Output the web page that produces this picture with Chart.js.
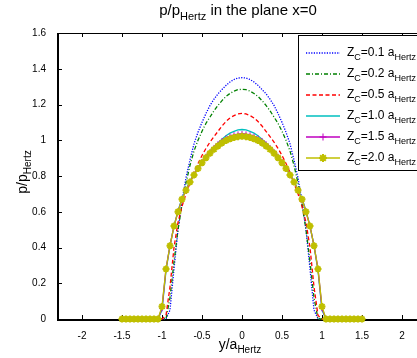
<!DOCTYPE html>
<html lang="en">
<head>
<meta charset="UTF-8">
<title>p/pHertz in the plane x=0</title>
<script src="https://cdn.jsdelivr.net/npm/chart.js"></script>
<style>
  html, body { margin: 0; padding: 0; overflow: hidden; background: #fff; }
</style>
</head>
<body>
<canvas id="chart" width="440" height="358"></canvas>
<script>
// positions along y (in units of a_Hertz)
const yPos = [-1.5, -1.45, -1.4, -1.35, -1.3, -1.25, -1.2, -1.15, -1.1, -1.05,
  -1, -0.95, -0.9, -0.85, -0.8, -0.75, -0.7, -0.65, -0.6, -0.55,
  -0.5, -0.45, -0.4, -0.35, -0.3, -0.25, -0.2, -0.15, -0.1, -0.05,
  0,
  0.05, 0.1, 0.15, 0.2, 0.25, 0.3, 0.35, 0.4, 0.45, 0.5,
  0.55, 0.6, 0.65, 0.7, 0.75, 0.8, 0.85, 0.9, 0.95, 1,
  1.05, 1.1, 1.15, 1.2, 1.25, 1.3, 1.35, 1.4, 1.45, 1.5];

const zcLabels = ['0.1', '0.2', '0.5', '1.0', '1.5', '2.0'];

// p/pHertz for each Zc
const pZc01 = [0, 0, 0, 0, 0, 0, 0, 0, 0, 0,
  0, 0, 0.05, 0.28, 0.50, 0.66, 0.79, 0.89, 0.98, 1.045,
  1.10, 1.15, 1.195, 1.23, 1.26, 1.284, 1.307, 1.326, 1.34, 1.348,
  1.35,
  1.348, 1.34, 1.326, 1.307, 1.284, 1.26, 1.23, 1.195, 1.15, 1.10,
  1.045, 0.98, 0.89, 0.79, 0.66, 0.50, 0.28, 0.05, 0, 0,
  0, 0, 0, 0, 0, 0, 0, 0, 0, 0];
const pZc02 = [0, 0, 0, 0, 0, 0, 0, 0, 0, 0,
  0, 0, 0.12, 0.32, 0.50, 0.64, 0.76, 0.86, 0.94, 1.0,
  1.05, 1.095, 1.13, 1.165, 1.195, 1.222, 1.245, 1.262, 1.275, 1.283,
  1.285,
  1.283, 1.275, 1.262, 1.245, 1.222, 1.195, 1.165, 1.13, 1.095, 1.05,
  1.0, 0.94, 0.86, 0.76, 0.64, 0.50, 0.32, 0.12, 0, 0,
  0, 0, 0, 0, 0, 0, 0, 0, 0, 0];
const pZc05 = [0, 0, 0, 0, 0, 0, 0, 0, 0, 0,
  0, 0.02, 0.18, 0.40, 0.54, 0.63, 0.70, 0.76, 0.82, 0.87,
  0.915, 0.955, 0.99, 1.02, 1.05, 1.08, 1.105, 1.125, 1.138, 1.147,
  1.15,
  1.147, 1.138, 1.125, 1.105, 1.08, 1.05, 1.02, 0.99, 0.955, 0.915,
  0.87, 0.82, 0.76, 0.70, 0.63, 0.54, 0.40, 0.18, 0.02, 0,
  0, 0, 0, 0, 0, 0, 0, 0, 0, 0];
const pZc10 = [0, 0, 0, 0, 0, 0, 0, 0, 0, 0,
  0.05, 0.27, 0.41, 0.52, 0.605, 0.675, 0.725, 0.77, 0.81, 0.845,
  0.88, 0.91, 0.937, 0.962, 0.985, 1.005, 1.025, 1.04, 1.05, 1.058,
  1.06,
  1.058, 1.05, 1.04, 1.025, 1.005, 0.985, 0.962, 0.937, 0.91, 0.88,
  0.845, 0.81, 0.77, 0.725, 0.675, 0.605, 0.52, 0.41, 0.27, 0.05,
  0, 0, 0, 0, 0, 0, 0, 0, 0, 0];
const pZc15 = [0, 0, 0, 0, 0, 0, 0, 0, 0, 0,
  0.06, 0.28, 0.41, 0.52, 0.60, 0.67, 0.72, 0.768, 0.808, 0.845,
  0.878, 0.908, 0.934, 0.957, 0.978, 0.996, 1.01, 1.02, 1.028, 1.033,
  1.035,
  1.033, 1.028, 1.02, 1.01, 0.996, 0.978, 0.957, 0.934, 0.908, 0.878,
  0.845, 0.808, 0.768, 0.72, 0.67, 0.60, 0.52, 0.41, 0.28, 0.06,
  0, 0, 0, 0, 0, 0, 0, 0, 0, 0];
const pZc20 = [0, 0, 0, 0, 0, 0, 0, 0, 0, 0,
  0.07, 0.28, 0.41, 0.52, 0.60, 0.67, 0.72, 0.766, 0.806, 0.842,
  0.874, 0.902, 0.927, 0.949, 0.968, 0.985, 0.998, 1.008, 1.015, 1.02,
  1.022,
  1.02, 1.015, 1.008, 0.998, 0.985, 0.968, 0.949, 0.927, 0.902, 0.874,
  0.842, 0.806, 0.766, 0.72, 0.67, 0.60, 0.52, 0.41, 0.28, 0.07,
  0, 0, 0, 0, 0, 0, 0, 0, 0, 0];

const xTicks = [-2, -1.5, -1, -0.5, 0, 0.5, 1, 1.5, 2];
const yTicks = [0, 0.2, 0.4, 0.6, 0.8, 1, 1.2, 1.4, 1.6];

const FONT = '"Liberation Sans", Arial, Helvetica, sans-serif';

function pts(values) {
  return yPos.map((y, i) => ({ x: y, y: values[i] }));
}

// draws text with subscript parts: [[text, isSub], ...]
function richText(ctx, parts, x, y, size, align) {
  const subSize = Math.round(size * 0.72);
  let w = 0;
  parts.forEach(([t, sub]) => {
    ctx.font = (sub ? subSize : size) + 'px ' + FONT;
    w += ctx.measureText(t).width;
  });
  let cx = align === 'center' ? x - w / 2 : x;
  ctx.textAlign = 'left';
  ctx.textBaseline = 'alphabetic';
  parts.forEach(([t, sub]) => {
    ctx.font = (sub ? subSize : size) + 'px ' + FONT;
    ctx.fillText(t, cx, sub ? y + size * 0.32 : y);
    cx += ctx.measureText(t).width;
  });
}

const frame = {
  id: 'frame',
  beforeDatasetsDraw(chart) {
    const { ctx, chartArea: a, scales: { x, y } } = chart;
    ctx.save();
    ctx.strokeStyle = '#000';
    ctx.lineWidth = 1;
    ctx.strokeRect(a.left + 0.5, a.top + 0.5, a.right - a.left, a.bottom - a.top);
    ctx.beginPath();
    xTicks.forEach(v => {
      const px = Math.round(x.getPixelForValue(v)) + 0.5;
      ctx.moveTo(px, a.bottom); ctx.lineTo(px, a.bottom - 4);
      ctx.moveTo(px, a.top); ctx.lineTo(px, a.top + 4);
    });
    yTicks.forEach(v => {
      const py = Math.round(y.getPixelForValue(v)) + 0.5;
      ctx.moveTo(a.left, py); ctx.lineTo(a.left + 4, py);
      ctx.moveTo(a.right, py); ctx.lineTo(a.right - 4, py);
    });
    ctx.stroke();
    // heavier left and bottom axis lines
    ctx.lineWidth = 2;
    ctx.beginPath();
    ctx.moveTo(a.left, a.top);
    ctx.lineTo(a.left, a.bottom + 1);
    ctx.lineTo(a.right, a.bottom + 1);
    ctx.stroke();
    ctx.restore();
  },
  afterDraw(chart) {
    const { ctx, chartArea: a } = chart;
    const mid = (a.left + a.right) / 2;
    ctx.save();
    ctx.fillStyle = '#000';
    // title
    richText(ctx, [['p/p'], ['Hertz', 1], [' in the plane x=0']], mid - 4, 15, 15, 'center');
    // x axis title
    richText(ctx, [['y/a'], ['Hertz', 1]], mid - 2, 349, 14, 'center');
    // y axis title
    ctx.save();
    ctx.translate(27, (a.top + a.bottom) / 2 - 4);
    ctx.rotate(-Math.PI / 2);
    richText(ctx, [['p/p'], ['Hertz', 1]], 0, 0, 14, 'center');
    ctx.restore();

    // legend
    const lx = 298, ly = 35, lw = 130, lh = 135;
    ctx.fillStyle = '#fff';
    ctx.fillRect(lx, ly, lw, lh);
    ctx.strokeStyle = '#000';
    ctx.lineWidth = 1;
    ctx.strokeRect(lx + 0.5, ly + 0.5, lw, lh);
    chart.data.datasets.forEach((ds, i) => {
      const cy = ly + 18 + i * 21;
      ctx.save();
      ctx.strokeStyle = ds.borderColor;
      ctx.lineWidth = ds.borderWidth;
      ctx.setLineDash(ds.borderDash || []);
      ctx.beginPath();
      ctx.moveTo(lx + 8, cy);
      ctx.lineTo(lx + 42, cy);
      ctx.stroke();
      ctx.setLineDash([]);
      if (ds.pointRadius > 0 && Chart.helpers && Chart.helpers.drawPoint) {
        ctx.fillStyle = ds.borderColor;
        ctx.lineWidth = ds.pointBorderWidth;
        Chart.helpers.drawPoint(ctx, {
          pointStyle: ds.pointStyle, radius: ds.pointRadius + 0.5,
          borderWidth: ds.pointBorderWidth, rotation: 0
        }, lx + 25, cy);
      }
      ctx.restore();
      ctx.fillStyle = '#000';
      richText(ctx, [['Z'], ['C', 1], ['=' + zcLabels[i] + ' a'], ['Hertz', 1]], lx + 49, cy + 3, 12, 'left');
    });
    ctx.restore();
  }
};

const colors = ['#0000ff', '#008000', '#ff0000', '#00bfbf', '#bf00bf', '#bfbf00'];
const dashes = [[1.2, 1.4], [4, 2, 1, 2], [4, 2.5], [], [], []];
const series = [pZc01, pZc02, pZc05, pZc10, pZc15, pZc20];
const styles = [null, null, null, null, 'cross', 'star'];

const datasets = series.map((s, i) => ({
  label: 'Zc=' + zcLabels[i] + ' aHertz',
  data: pts(s),
  borderColor: colors[i],
  backgroundColor: colors[i],
  borderWidth: 1.3,
  borderDash: dashes[i],
  pointStyle: styles[i] || 'circle',
  pointRadius: styles[i] === 'star' ? 3.5 : (styles[i] ? 3 : 0),
  pointBorderWidth: styles[i] === 'star' ? 2 : 1,
  pointBorderColor: colors[i],
  pointBackgroundColor: colors[i],
  tension: 0,
  clip: false,
  order: 5 - i
}));

Chart.defaults.font.family = FONT;
Chart.defaults.color = '#000';

new Chart(document.getElementById('chart').getContext('2d'), {
  type: 'line',
  data: { datasets },
  options: {
    responsive: false,
    animation: false,
    devicePixelRatio: 1,
    layout: { padding: { left: 0, top: 33, right: 14, bottom: 0 } },
    plugins: { legend: { display: false }, tooltip: { enabled: false }, title: { display: false } },
    scales: {
      x: {
        type: 'linear', min: -2.3, max: 2.3,
        afterBuildTicks: s => { s.ticks = xTicks.map(v => ({ value: v })); },
        afterFit: s => { s.height = 39; },
        grid: { display: false }, border: { display: false },
        ticks: { font: { size: 10 }, padding: 3, maxRotation: 0, autoSkip: false, callback: v => String(v) }
      },
      y: {
        type: 'linear', min: 0, max: 1.6,
        afterBuildTicks: s => { s.ticks = yTicks.map(v => ({ value: v })); },
        afterFit: s => { s.width = 58; },
        grid: { display: false }, border: { display: false },
        ticks: { font: { size: 10 }, padding: 4, autoSkip: false, callback: v => String(v) }
      }
    }
  },
  plugins: [frame]
});
</script>
</body>
</html>
